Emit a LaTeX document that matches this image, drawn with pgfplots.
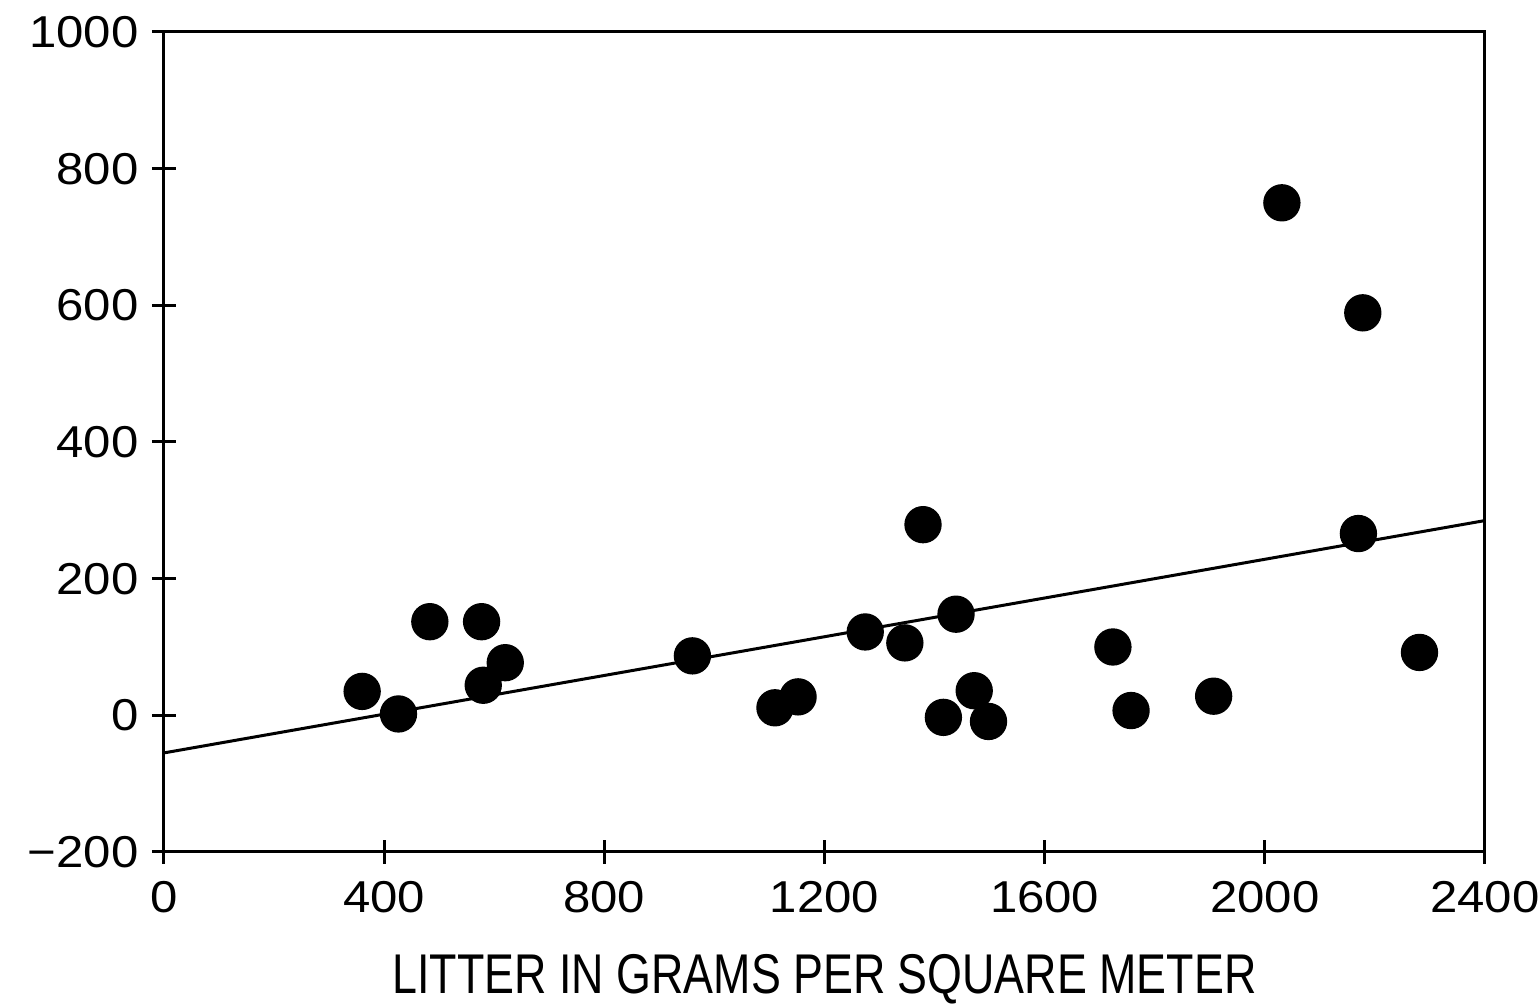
\documentclass[border=0pt]{standalone}
\usepackage{pgfplots}
\pgfplotsset{compat=1.18}
\usepackage{fontspec}
\setmainfont{Liberation Sans}[FakeStretch=1.1]
\newfontfamily\labelfont{Liberation Sans}[FakeStretch=0.8]

\begin{document}
\begin{tikzpicture}[x=1pt,y=1pt]
% page size fixed to the reference proportions (1 px = 0.3 pt)
\useasboundingbox (-49.2,-46.2) rectangle (412.5,255.6);
\begin{axis}[
  scale only axis,
  width=396.3pt,
  height=246pt,
  xmin=0, xmax=2400,
  ymin=-200, ymax=1000,
  xtick={0,400,...,2400},
  ytick={-200,0,...,1000},
  yticklabels={\symbol{"2212}200,0,200,400,600,800,1000},
  xtick pos=bottom,
  ytick pos=left,
  tick align=center,
  major tick length=7.2pt,
  tick style={black, line width=0.9pt},
  axis line style={line width=0.9pt},
  /pgf/number format/assume math mode=true,
  /pgf/number format/set thousands separator={},
  ticklabel style={font=\fontsize{13.4}{16}\selectfont},
  yticklabel style={xshift=-0.5pt},
  xticklabel style={yshift=-1.8pt},
  xlabel={LITTER IN GRAMS PER SQUARE METER},
  xlabel style={font=\labelfont\fontsize{16.8}{20}\selectfont, yshift=-5.3pt},
  clip=false,
]
\addplot[only marks, mark=*, mark size=5.4pt, black] coordinates {
  (360,35) (426,2) (483,137) (577,137) (580,44) (620,77)
  (960,87) (1110,11) (1152,27) (1274,122) (1346,106) (1379,279)
  (1439,148) (1416,-3) (1472,36) (1498,-9) (1724,100) (1757,7)
  (1907,28) (2031,750) (2178,589) (2170,266) (2281,92)
};
\addplot[black, line width=0.9pt] coordinates {(0,-55) (2400,285)};
\end{axis}
\end{tikzpicture}
\end{document}
